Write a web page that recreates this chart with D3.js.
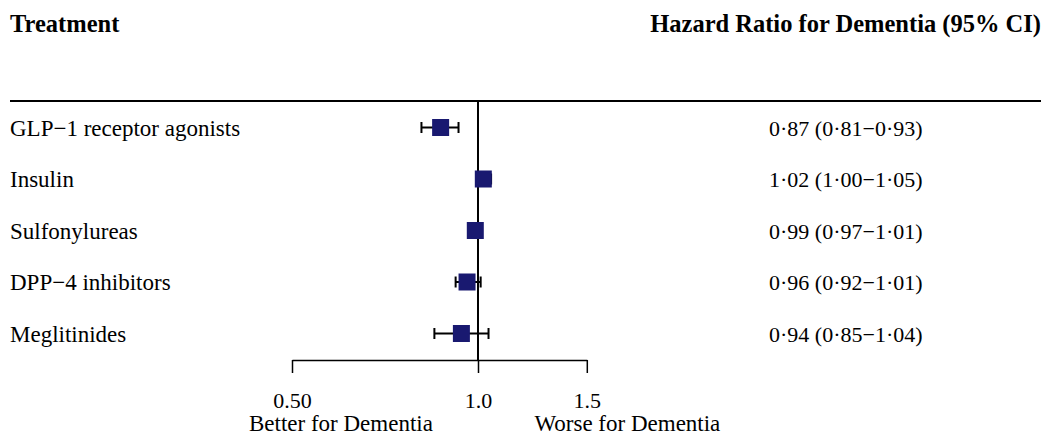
<!DOCTYPE html>
<html>
<head>
<meta charset="utf-8">
<script src="https://cdn.jsdelivr.net/npm/d3@7"></script>
<style>
  body { margin: 0; background: #fff; }
  text { font-family: "Liberation Serif", "Times New Roman", serif; fill: #000; }
</style>
</head>
<body>
<script>
const treatments = ['GLP\u22121 receptor agonists', 'Insulin', 'Sulfonylureas', 'DPP\u22124 inhibitors', 'Meglitinides'];
const hr = [0.87, 1.02, 0.99, 0.96, 0.94];
const lower = [0.81, 1.00, 0.97, 0.92, 0.85];
const upper = [0.93, 1.05, 1.01, 1.01, 1.04];
const tickValues = [0.5, 1.0, 1.5];
const tickLabels = ['0.50', '1.0', '1.5'];

const width = 1050;
const height = 435;

const fmt = v => v.toFixed(2).replace('.', '\u00b7');

const svg = d3.select('body')
  .append('svg')
  .attr('width', width)
  .attr('height', height);

const x = d3.scaleLog()
  .domain([0.5, 1.5])
  .range([292, 586.8]);

const y = d3.scalePoint()
  .domain(treatments)
  .range([127.5, 333.5]);

// headers
svg.append('text')
  .attr('x', 10).attr('y', 32)
  .style('font-size', '24.5px').style('font-weight', 'bold')
  .text('Treatment');

svg.append('text')
  .attr('x', 1041).attr('y', 32)
  .attr('text-anchor', 'end')
  .style('font-size', '24.5px').style('font-weight', 'bold')
  .text('Hazard Ratio for Dementia (95% CI)');

// top rule
svg.append('line')
  .attr('x1', 10).attr('x2', 1041)
  .attr('y1', 101).attr('y2', 101)
  .attr('stroke', '#000').attr('stroke-width', 2);

// reference line at 1
svg.append('line')
  .attr('x1', x(1)).attr('x2', x(1))
  .attr('y1', 101).attr('y2', 360)
  .attr('stroke', '#000').attr('stroke-width', 2);

const rows = svg.append('g')
  .selectAll('g')
  .data(treatments.map((t, i) => ({ t, hr: hr[i], lo: lower[i], hi: upper[i] })))
  .enter().append('g');

rows.append('text')
  .attr('x', 10)
  .attr('y', d => y(d.t) + 8)
  .style('font-size', '23px')
  .text(d => d.t);

rows.append('text')
  .attr('x', 769)
  .attr('y', d => y(d.t) + 8)
  .style('font-size', '22px')
  .text(d => `${fmt(d.hr)} (${fmt(d.lo)}\u2212${fmt(d.hi)})`);

rows.append('line')
  .attr('x1', d => x(d.lo)).attr('x2', d => x(d.hi))
  .attr('y1', d => y(d.t)).attr('y2', d => y(d.t))
  .attr('stroke', '#000').attr('stroke-width', 2);

rows.selectAll('.cap')
  .data(d => [{ v: d.lo, t: d.t }, { v: d.hi, t: d.t }])
  .enter().append('line')
  .attr('x1', d => x(d.v)).attr('x2', d => x(d.v))
  .attr('y1', d => y(d.t) - 5.5).attr('y2', d => y(d.t) + 5.5)
  .attr('stroke', '#000').attr('stroke-width', 2);

const box = 17;
rows.append('rect')
  .attr('x', d => x(d.hr) - box / 2)
  .attr('y', d => y(d.t) - box / 2)
  .attr('width', box).attr('height', box)
  .attr('fill', '#191970');

// axis
const axis = svg.append('g')
  .attr('transform', 'translate(0,360)')
  .call(d3.axisBottom(x)
    .tickValues(tickValues)
    .tickFormat((d, i) => tickLabels[i])
    .tickSize(13)
    .tickSizeOuter(0));

axis.select('.domain').attr('stroke', '#000').attr('stroke-width', 1.5);
axis.selectAll('.tick line').attr('stroke', '#000').attr('stroke-width', 1.5);
axis.selectAll('.tick text')
  .attr('y', 48).attr('dy', 0)
  .style('font-size', '22px')
  .style('font-family', '"Liberation Serif", serif')
  .attr('fill', '#000');

svg.append('text')
  .attr('x', x(0.6)).attr('y', 431)
  .attr('text-anchor', 'middle')
  .style('font-size', '23px')
  .text('Better for Dementia');

svg.append('text')
  .attr('x', x(1.745)).attr('y', 431)
  .attr('text-anchor', 'middle')
  .style('font-size', '23px')
  .text('Worse for Dementia');
</script>
</body>
</html>
